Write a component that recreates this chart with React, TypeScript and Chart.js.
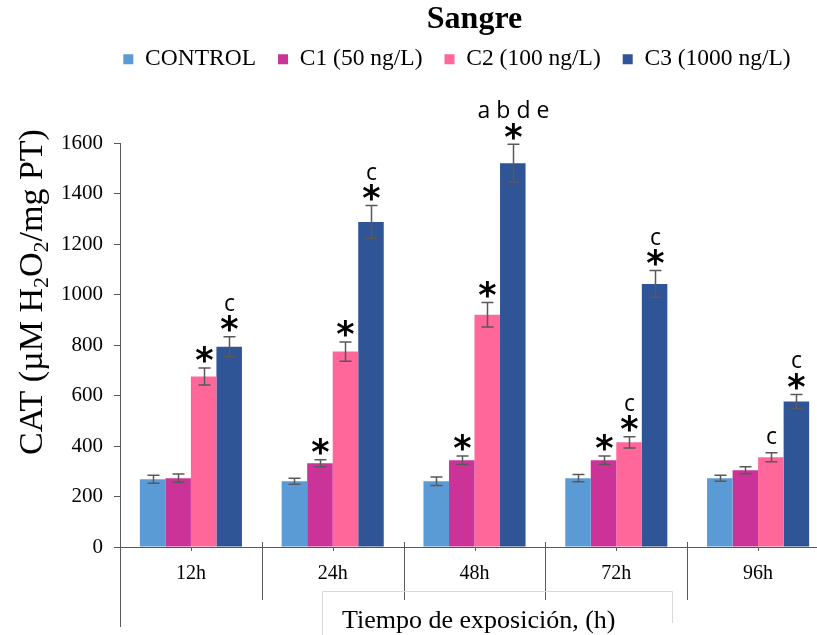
import React, { useEffect, useRef } from 'react';
import { Chart, registerables } from 'chart.js';

Chart.register(...registerables);

const categories = ['12h', '24h', '48h', '72h', '96h'];
const seriesNames = ['CONTROL', 'C1 (50 ng/L)', 'C2 (100 ng/L)', 'C3 (1000 ng/L)'];
const seriesColors = ['#5B9BD5', '#CC3399', '#FF6699', '#2F5597'];

const controlValues = [269, 261, 261, 273, 273];
const c1Values = [273, 332, 344, 344, 304];
const c2Values = [676, 775, 921, 415, 356];
const c3Values = [794, 1289, 1522, 1043, 577];

const controlErrors = [16, 12, 17, 14, 12];
const c1Errors = [16, 14, 17, 17, 14];
const c2Errors = [34, 38, 49, 22, 18];
const c3Errors = [40, 65, 75, 53, 28];

const controlStars = [false, false, false, false, false];
const c1Stars = [false, true, true, true, false];
const c2Stars = [true, true, true, true, false];
const c3Stars = [true, true, true, true, true];

const controlLetters = ['', '', '', '', ''];
const c1Letters = ['', '', '', '', ''];
const c2Letters = ['', '', '', 'c', 'c'];
const c3Letters = ['c', 'c', 'a b d e', 'c', 'c'];

const yMin = 0;
const yMax = 1600;
const yStep = 200;

const titleText = 'Sangre';
const xTitleText = 'Tiempo de exposición, (h)';
const yTitleParts: { t: string; sub?: boolean }[] = [
  { t: 'CAT (µM H' },
  { t: '2', sub: true },
  { t: 'O' },
  { t: '2', sub: true },
  { t: '/mg PT)' },
];

const allValues = [controlValues, c1Values, c2Values, c3Values];
const allErrors = [controlErrors, c1Errors, c2Errors, c3Errors];
const allStars = [controlStars, c1Stars, c2Stars, c3Stars];
const allLetters = [controlLetters, c1Letters, c2Letters, c3Letters];

const SERIF = "'Liberation Serif', 'Times New Roman', serif";
const AXIS_COLOR = '#595959';

function drawCenteredGlyph(ctx: CanvasRenderingContext2D, text: string, x: number, cy: number) {
  const m = ctx.measureText(text);
  const asc = m.actualBoundingBoxAscent;
  const desc = m.actualBoundingBoxDescent;
  ctx.fillText(text, x, cy + (asc - desc) / 2);
}

const annotationsPlugin = {
  id: 'annotations',
  afterDatasetsDraw(chart: any) {
    const ctx: CanvasRenderingContext2D = chart.ctx;
    const yScale = chart.scales.y;
    ctx.save();
    allValues.forEach((vals, di) => {
      const meta = chart.getDatasetMeta(di);
      meta.data.forEach((bar: any, i: number) => {
        const v = vals[i];
        const e = allErrors[di][i];
        const x = Math.round(bar.x) + 0.5;
        const yt = yScale.getPixelForValue(v + e);
        const yb = yScale.getPixelForValue(v - e);
        ctx.strokeStyle = AXIS_COLOR;
        ctx.lineWidth = 1.5;
        ctx.beginPath();
        ctx.moveTo(x, yt);
        ctx.lineTo(x, yb);
        ctx.moveTo(x - 6, yt);
        ctx.lineTo(x + 6, yt);
        ctx.moveTo(x - 6, yb);
        ctx.lineTo(x + 6, yb);
        ctx.stroke();

        ctx.fillStyle = '#000';
        ctx.textAlign = 'center';
        ctx.textBaseline = 'alphabetic';
        const hasStar = allStars[di][i];
        if (hasStar) {
          ctx.font = "bold 35px 'DejaVu Sans', sans-serif";
          drawCenteredGlyph(ctx, '*', x, yt - 13);
        }
        const letters = allLetters[di][i];
        if (letters) {
          ctx.font = "23px 'Open Sans', sans-serif";
          ctx.fillText(letters, x, hasStar ? yt - 26 : yt - 9);
        }
      });
    });
    ctx.restore();
  },
  afterDraw(chart: any) {
    const ctx: CanvasRenderingContext2D = chart.ctx;
    const xs = chart.scales.x;
    const area = chart.chartArea;
    ctx.save();
    ctx.strokeStyle = AXIS_COLOR;
    ctx.lineWidth = 1;
    const left = Math.round(area.left) + 0.5;
    const bottom = Math.round(area.bottom);
    ctx.beginPath();
    // y-axis extension below the category axis
    ctx.moveTo(left, bottom);
    ctx.lineTo(left, 627);
    // category separators
    for (let i = 1; i <= categories.length; i++) {
      const bx = i < categories.length
        ? (xs.getPixelForValue(i - 1) + xs.getPixelForValue(i)) / 2
        : area.right;
      const px = Math.round(bx) + 0.5;
      ctx.moveTo(px, bottom - 5);
      ctx.lineTo(px, 600);
    }
    // small center ticks
    for (let i = 0; i < categories.length; i++) {
      const px = Math.round(xs.getPixelForValue(i)) + 0.5;
      ctx.moveTo(px, bottom);
      ctx.lineTo(px, bottom + 4);
    }
    ctx.stroke();

    // x-axis title box
    ctx.strokeStyle = '#D9D9D9';
    ctx.beginPath();
    ctx.moveTo(322.5, 640);
    ctx.lineTo(322.5, 591.5);
    ctx.lineTo(672.5, 591.5);
    ctx.lineTo(672.5, 623);
    ctx.stroke();
    ctx.fillStyle = '#000';
    ctx.font = `26px ${SERIF}`;
    ctx.textAlign = 'left';
    ctx.textBaseline = 'alphabetic';
    ctx.fillText(xTitleText, 342, 628);

    // y-axis title with subscripts
    const size = 34;
    const subSize = Math.round(size * 0.65);
    let total = 0;
    yTitleParts.forEach((p) => {
      ctx.font = `${p.sub ? subSize : size}px ${SERIF}`;
      total += ctx.measureText(p.t).width;
    });
    ctx.translate(42, 292);
    ctx.rotate(-Math.PI / 2);
    let cx = -total / 2;
    yTitleParts.forEach((p) => {
      ctx.font = `${p.sub ? subSize : size}px ${SERIF}`;
      ctx.fillText(p.t, cx, p.sub ? 6 : 0);
      cx += ctx.measureText(p.t).width;
    });
    ctx.restore();
  },
};

export default function App() {
  const canvasRef = useRef<HTMLCanvasElement | null>(null);

  useEffect(() => {
    if (!canvasRef.current) return;
    const datasets = seriesNames.map((name, i) => ({
      label: name,
      data: allValues[i],
      backgroundColor: seriesColors[i],
      borderWidth: 0,
      barPercentage: 1,
      categoryPercentage: 0.72,
    }));
    const chart = new Chart(canvasRef.current, {
      type: 'bar',
      data: { labels: categories, datasets },
      plugins: [annotationsPlugin],
      options: {
        responsive: false,
        maintainAspectRatio: false,
        animation: false,
        devicePixelRatio: 1,
        layout: { padding: { left: 0, right: 0, top: 0, bottom: 0 } },
        plugins: {
          tooltip: { enabled: false },
          title: {
            display: true,
            text: titleText,
            color: '#000',
            fullSize: false,
            font: { family: SERIF, size: 32, weight: 'bold', lineHeight: 1.2 },
            padding: { top: 1, bottom: -13.9 },
          },
          subtitle: {
            display: true,
            text: ' ',
            fullSize: false,
            weight: 500,
            font: { size: 10, lineHeight: 1 },
            padding: { top: 0, bottom: 52.5 },
          },
          legend: {
            display: true,
            position: 'top',
            align: 'center',
            fullSize: true,
            labels: {
              boxWidth: 10,
              boxHeight: 10,
              padding: 22,
              color: '#000',
              font: { family: SERIF, size: 23.5 },
            },
          },
        },
        scales: {
          x: {
            type: 'category',
            offset: true,
            grid: { display: false, drawTicks: false, tickLength: 0 },
            border: { display: true, color: AXIS_COLOR, width: 1 },
            ticks: { color: '#000', font: { family: SERIF, size: 20 }, padding: 15, maxRotation: 0 },
            afterFit: (s: any) => { s.height = 88; },
          },
          y: {
            position: 'left',
            min: yMin,
            max: yMax,
            ticks: {
              stepSize: yStep,
              color: '#000',
              font: { family: SERIF, size: 21 },
              padding: 11,
              callback: (v: any) => String(v),
            },
            grid: { display: true, drawOnChartArea: false, drawTicks: true, tickLength: 6, color: AXIS_COLOR },
            border: { display: true, color: AXIS_COLOR, width: 1 },
            afterFit: (s: any) => { s.width = 120; },
          },
          spacer: {
            type: 'linear',
            position: 'right',
            display: true,
            ticks: { display: false },
            grid: { display: false, drawTicks: false },
            border: { display: false },
            afterFit: (s: any) => { s.width = 85; },
          },
        },
      } as any,
    });
    return () => chart.destroy();
  }, []);

  return (
    <div style={{ position: 'fixed', left: 0, top: 0, width: 817, height: 635, overflow: 'hidden', background: '#fff' }}>
      <canvas ref={canvasRef} width={914} height={635} style={{ width: 914, height: 635, display: 'block' }} />
    </div>
  );
}
